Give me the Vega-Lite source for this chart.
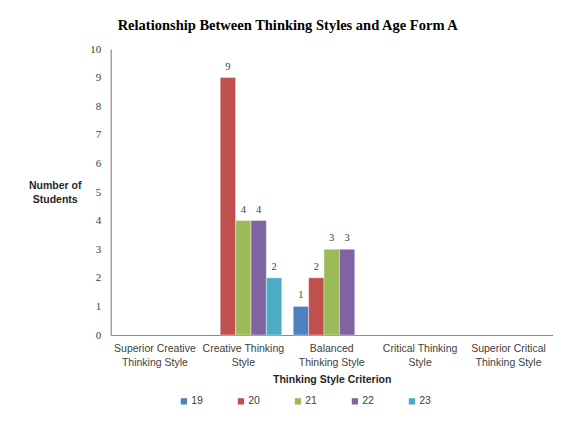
{
  "$schema": "https://vega.github.io/schema/vega-lite/v6.json",
  "autosize": "none",
  "width": 442,
  "height": 286,
  "padding": {"left": 110.7, "top": 49, "right": 8.3, "bottom": 86},
  "background": "white",
  "title": {
    "text": "Relationship Between Thinking Styles and Age Form A",
    "font": "Liberation Serif",
    "fontSize": 14.5,
    "fontWeight": "bold",
    "color": "#000000",
    "anchor": "middle",
    "dx": -44,
    "offset": 10
  },
  "data": {
    "values": [
      {"style": "Creative Thinking Style", "age": "20", "count": 9},
      {"style": "Creative Thinking Style", "age": "21", "count": 4},
      {"style": "Creative Thinking Style", "age": "22", "count": 4},
      {"style": "Creative Thinking Style", "age": "23", "count": 2},
      {"style": "Balanced Thinking Style", "age": "19", "count": 1},
      {"style": "Balanced Thinking Style", "age": "20", "count": 2},
      {"style": "Balanced Thinking Style", "age": "21", "count": 3},
      {"style": "Balanced Thinking Style", "age": "22", "count": 3}
    ]
  },
  "encoding": {
    "x": {
      "field": "style",
      "type": "nominal",
      "sort": null,
      "scale": {
        "domain": ["Superior Creative Thinking Style", "Creative Thinking Style", "Balanced Thinking Style", "Critical Thinking Style", "Superior Critical Thinking Style"],
        "paddingInner": 0.13,
        "paddingOuter": 0.065
      },
      "axis": {
        "title": "Thinking Style Criterion",
        "titleFont": "Liberation Sans",
        "titleFontSize": 10.5,
        "titleFontWeight": "bold",
        "titleColor": "#262626",
        "titlePadding": 7,
        "labelAngle": 0,
        "labelFont": "Liberation Sans",
        "labelFontSize": 10.5,
        "labelColor": "#404040",
        "labelPadding": 8,
        "labelLineHeight": 14,
        "labelLimit": 0,
        "labelExpr": "datum.value == 'Superior Creative Thinking Style' ? ['Superior Creative', 'Thinking Style'] : datum.value == 'Creative Thinking Style' ? ['Creative Thinking', 'Style'] : datum.value == 'Balanced Thinking Style' ? ['Balanced', 'Thinking Style'] : datum.value == 'Critical Thinking Style' ? ['Critical Thinking', 'Style'] : ['Superior Critical', 'Thinking Style']",
        "ticks": false,
        "domainColor": "#8c8c8c",
        "domainWidth": 1.2,
        "grid": false
      }
    },
    "xOffset": {
      "field": "age",
      "type": "nominal",
      "scale": {"domain": ["19", "20", "21", "22", "23"], "paddingInner": 0, "paddingOuter": 0}
    },
    "y": {
      "field": "count",
      "type": "quantitative",
      "scale": {"domain": [0, 10]},
      "axis": {
        "title": ["Number of", "Students"],
        "titleAngle": 0,
        "titleAlign": "center",
        "titleBaseline": "middle",
        "titleX": -56,
        "titleY": 136,
        "titleFont": "Liberation Sans",
        "titleFontSize": 10.5,
        "titleFontWeight": "bold",
        "titleColor": "#262626",
        "titleLineHeight": 14,
        "values": [0, 1, 2, 3, 4, 5, 6, 7, 8, 9, 10],
        "labelFont": "Liberation Serif",
        "labelFontSize": 11,
        "labelColor": "#404040",
        "labelPadding": 10,
        "ticks": false,
        "domainColor": "#8c8c8c",
        "domainWidth": 1.2,
        "grid": false
      }
    }
  },
  "layer": [
    {
      "mark": {"type": "bar", "stroke": "white", "strokeWidth": 0.4},
      "encoding": {
        "color": {
          "field": "age",
          "type": "nominal",
          "scale": {"domain": ["19", "20", "21", "22", "23"], "range": ["#4F81BD", "#C0504D", "#9BBB59", "#8064A2", "#4BACC6"]},
          "legend": {
            "title": null,
            "orient": "none",
            "legendX": 68,
            "legendY": 347,
            "direction": "horizontal",
            "symbolType": "square",
            "symbolSize": 40,
            "symbolStrokeWidth": 0,
            "labelFont": "Liberation Sans",
            "labelFontSize": 10.5,
            "labelColor": "#404040",
            "labelOffset": 2,
            "columnPadding": 32
          }
        }
      }
    },
    {
      "mark": {"type": "text", "baseline": "bottom", "dy": -6, "font": "Liberation Serif", "fontSize": 10.5, "color": "#404040"},
      "encoding": {"text": {"field": "count", "type": "quantitative"}}
    }
  ],
  "config": {"view": {"stroke": null}}
}
